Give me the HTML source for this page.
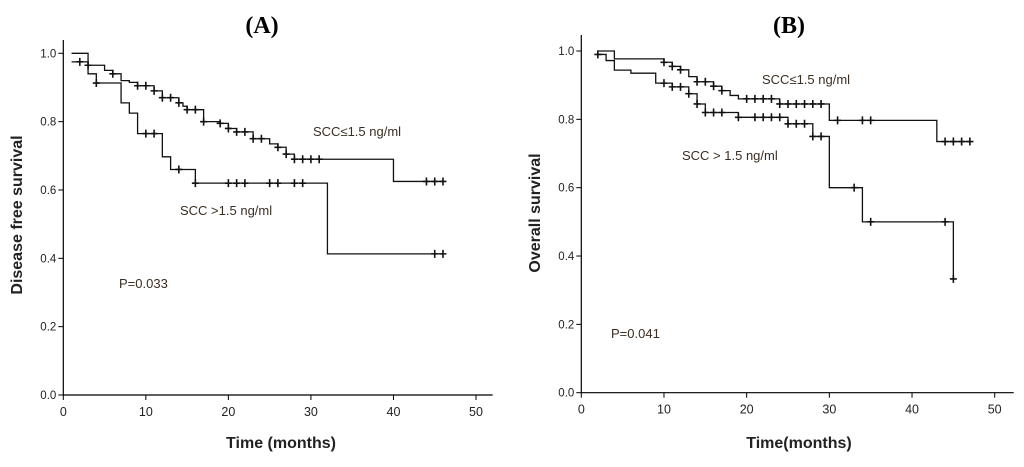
<!DOCTYPE html>
<html><head><meta charset="utf-8"><style>
body{margin:0;background:#fff;width:1024px;height:462px;overflow:hidden}
svg text{font-family:"Liberation Sans",Arial,sans-serif}
svg text.ttl{font-family:"Liberation Serif",serif}
</style></head><body>
<svg id="c" width="1024" height="462"></svg>
<script>
// Panel A data
const aLowTimes=[1,3,5,6,7,8,9,11,12,14,14.5,15,17,19,20,21,23,25,26,27,28,40,46];
const aLowSurv=[0.975,0.965,0.95,0.94,0.92,0.915,0.905,0.89,0.87,0.855,0.845,0.835,0.80,0.795,0.78,0.77,0.75,0.735,0.725,0.705,0.69,0.625,0.625];
const aLowCens=[2,3,6,9,10,11,12,13,14,15,16,17,19,20,21,22,23,24,26,27,28,29,30,31,44,45,46];
const aHighTimes=[1,3,4,7,8,9,12,13,16,32,46];
const aHighSurv=[1.0,0.94,0.913,0.855,0.825,0.765,0.697,0.66,0.62,0.413,0.413];
const aHighCens=[4,10,11,14,16,20,21,22,25,26,28,29,45,46];
// Panel B data
const bLowTimes=[2,4,10,11,12,13,14,16,17,18,19,24,30,43,47];
const bLowSurv=[1.0,0.977,0.967,0.955,0.945,0.925,0.91,0.897,0.884,0.87,0.86,0.845,0.797,0.735,0.735];
const bLowCens=[10,11,12,14,15,16,17,20,21,22,23,24,25,26,27,28,29,31,34,35,44,45,46,47];
const bHighTimes=[2,3,4,6,9,11,13,14,15,19,25,28,30,34,45];
const bHighSurv=[0.99,0.972,0.944,0.935,0.906,0.895,0.875,0.845,0.82,0.806,0.787,0.75,0.60,0.50,0.333];
const bHighCens=[2,10,11,12,13,14,15,16,17,19,21,22,23,24,25,26,27,28,29,33,35,44,45];
const xTicks=[0,10,20,30,40,50];
const yTicks=[0,0.2,0.4,0.6,0.8,1.0];

const NS="http://www.w3.org/2000/svg";
const svg=document.getElementById('c');
function mk(tag,attrs,parent,txt){const e=document.createElementNS(NS,tag);for(const k in attrs)e.setAttribute(k,attrs[k]);if(txt!==undefined)e.textContent=txt;(parent||svg).appendChild(e);return e;}

function panel(p){
  const g=mk('g',{});
  
  
  const X=t=>p.x0+(p.x50-p.x0)*t/50, Y=v=>p.y0+(p.y1-p.y0)*v;
  const ax=mk('path',{d:`M${p.x0},${p.ytop}V${p.y0}H${p.xend}`,stroke:'#000','stroke-width':1.2,fill:'none'},g);
  
  
  xTicks.forEach(t=>{
    mk('line',{x1:X(t),x2:X(t),y1:p.y0,y2:p.y0+5,stroke:'#000'},g);
    const l=mk('text',{x:X(t),y:p.y0+21,'font-size':12.5,'text-anchor':'middle',fill:'#222'},g,String(t));
    
    
  });
  yTicks.forEach(v=>{
    mk('line',{x1:p.x0-5,x2:p.x0,y1:Y(v),y2:Y(v),stroke:'#000'},g);
    const l=mk('text',{x:p.x0-7,y:Y(v)+4,'font-size':11.5,'text-anchor':'end',fill:'#222'},g,v.toFixed(1));
    
    
  });
  p.series.forEach(s=>{
    let d=`M${X(s.t[0])},${Y(s.v[0])}`;
    for(let i=1;i<s.t.length;i++){d+=`H${X(s.t[i])}V${Y(s.v[i])}`;}
    const pa=mk('path',{d,stroke:'#111','stroke-width':1.3,fill:'none'},g);
    
    
    s.c.forEach(ct=>{
      let v=s.v[0];for(let i=0;i<s.t.length;i++){if(s.t[i]<=ct)v=s.v[i];}
      const cm=mk('path',{d:`M${X(ct)-3.5},${Y(v)}h7M${X(ct)},${Y(v)-4}v8`,stroke:'#111','stroke-width':1.6},g);
      
      
    });
  });
  const t=mk('text',{x:p.tx,y:33,'font-size':24,'font-weight':'bold','text-anchor':'middle','class':'ttl'},g,p.title);
  
  
  const xt=mk('text',{x:p.xtx,y:448,'font-size':16,'font-weight':'bold','text-anchor':'middle',fill:'#222'},g,p.xt);
  
  
  const yt=mk('text',{x:0,y:0,'font-size':16,'font-weight':'bold','text-anchor':'middle',fill:'#222',transform:`translate(${p.ytx},${p.yty}) rotate(-90)`},g,p.yt);
  
  
  p.notes.forEach(n=>{
    const e=mk('text',{x:n[0],y:n[1],'font-size':13,fill:'#3a2e22'},g,n[2]);
    
    
  });
}
panel({name:'panel-a',x0:63.3,x50:476,y0:395,y1:53.3,ytop:40,xend:492.7,title:'(A)',tx:262,
  xt:'Time (months)',xtx:281,yt:'Disease free survival',ytx:22,yty:215,
  series:[{name:'scc-low-curve',t:aLowTimes,v:aLowSurv,c:aLowCens},{name:'scc-high-curve',t:aHighTimes,v:aHighSurv,c:aHighCens}],
  notes:[[313,136,'SCC≤1.5 ng/ml','scc-low-label'],[180,215,'SCC  >1.5 ng/ml','scc-high-label'],[119,288,'P=0.033','p-value']]});
panel({name:'panel-b',x0:581.3,x50:994.7,y0:392.7,y1:51,ytop:35,xend:1013.7,title:'(B)',tx:789,
  xt:'Time(months)',xtx:799,yt:'Overall survival',ytx:540,yty:213,
  series:[{name:'scc-low-curve',t:bLowTimes,v:bLowSurv,c:bLowCens},{name:'scc-high-curve',t:bHighTimes,v:bHighSurv,c:bHighCens}],
  notes:[[762,84,'SCC≤1.5 ng/ml','scc-low-label'],[682,160,'SCC > 1.5 ng/ml','scc-high-label'],[611,338,'P=0.041','p-value']]});
</script>
</body></html>
